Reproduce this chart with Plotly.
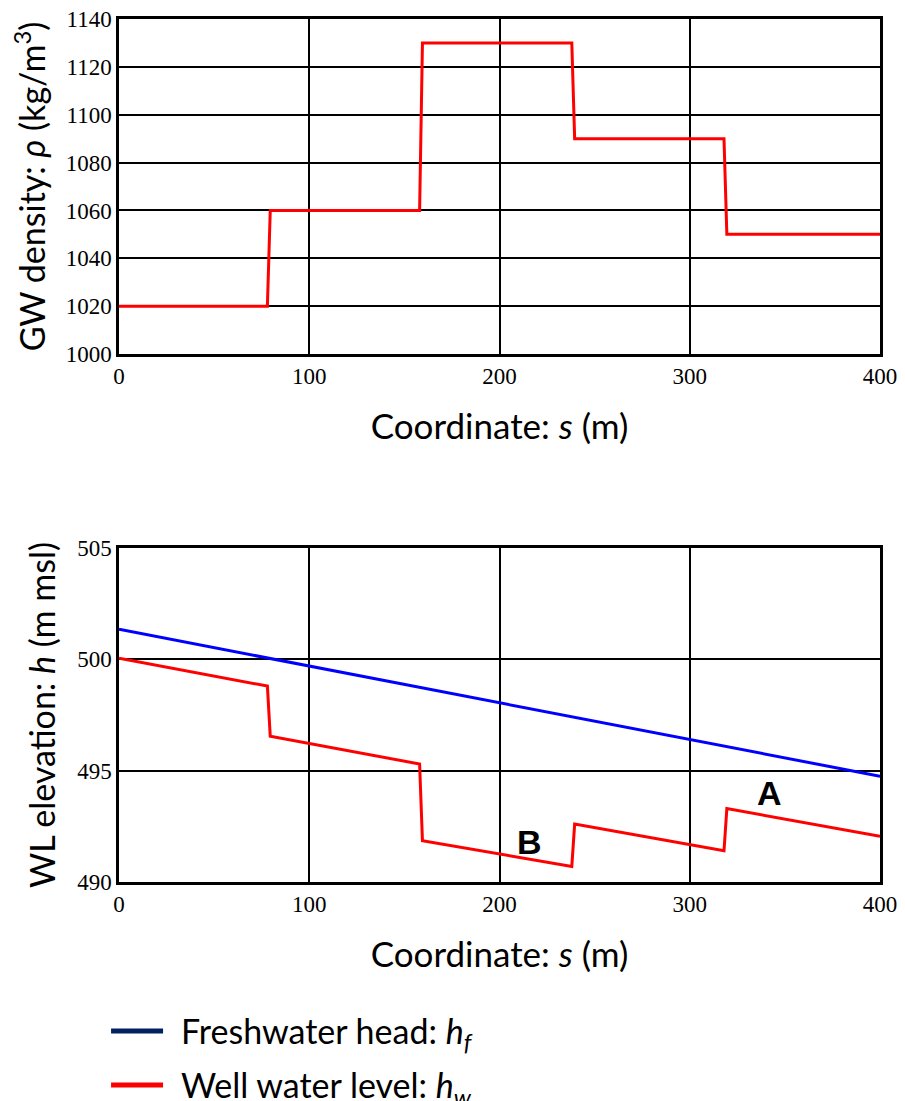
import plotly.graph_objects as go
from plotly.subplots import make_subplots

# ---- data ----
s_rho = [0, 78, 79.5, 158, 159.5, 238, 239.5, 318, 319.5, 400]
rho = [1020, 1020, 1060, 1060, 1130, 1130, 1090, 1090, 1050, 1050]

s_hf = [0, 400]
hf = [501.35, 494.75]

s_hw = [0, 78, 79.5, 158, 159.5, 238, 239.5, 318, 319.5, 400]
hw = [500.05, 498.8, 496.55, 495.3, 491.85, 490.7, 492.6, 491.4, 493.3, 492.05]

x_ticks = [0, 100, 200, 300, 400]
rho_ticks = [1000, 1020, 1040, 1060, 1080, 1100, 1120, 1140]
h_ticks = [490, 495, 500, 505]

labels = [("A", 342, 494.0), ("B", 216, 491.8)]

TICKFONT = dict(family="Liberation Serif", size=23, color="black")
SANS = "Lato"

fig = make_subplots(rows=2, cols=1, vertical_spacing=0.0)

fig.add_trace(go.Scatter(x=s_rho, y=rho, mode="lines",
                         line=dict(color="#ff0000", width=3), showlegend=False), row=1, col=1)
fig.add_trace(go.Scatter(x=s_hf, y=hf, mode="lines",
                         line=dict(color="#0000ff", width=3), showlegend=False), row=2, col=1)
fig.add_trace(go.Scatter(x=s_hw, y=hw, mode="lines",
                         line=dict(color="#ff0000", width=3), showlegend=False), row=2, col=1)

# legend entries
NB = "\u00a0\u2009"
fig.add_trace(go.Scatter(x=[None], y=[None], mode="lines", legendgroup="a",
                         line=dict(color="#002060", width=5),
                         name=NB + "Freshwater head: <i>h</i><sub><i>f</i></sub>"), row=2, col=1)
fig.add_trace(go.Scatter(x=[None], y=[None], mode="lines", legendgroup="b",
                         line=dict(color="#ff0000", width=5),
                         name=NB + "Well water level: <i>h</i><sub><i>w</i></sub>"), row=2, col=1)

axis_common = dict(showline=True, linecolor="black", linewidth=2.5, mirror=True,
                   showgrid=True, gridcolor="black", gridwidth=1.5,
                   ticks="", tickfont=TICKFONT, zeroline=False, automargin=False,
                   ticklabeloverflow="allow")

fig.update_xaxes(**axis_common, range=[0, 400], tickvals=x_ticks,
                 title=dict(text="Coordinate: <i>s</i> (m)", font=dict(family=SANS, size=35, color="black"),
                            standoff=27))
fig.update_yaxes(**axis_common)
fig.update_yaxes(range=[1000, 1140], tickvals=rho_ticks, row=1, col=1,
                 title=dict(text="GW density: <i>ρ</i> (kg/m<sup>3</sup>)",
                            font=dict(family=SANS, size=34, color="black"), standoff=12))
fig.update_yaxes(range=[490, 505], tickvals=h_ticks, row=2, col=1,
                 title=dict(text="WL elevation: <i>h</i> (m msl)",
                            font=dict(family=SANS, size=34, color="black"), standoff=12))

fig.update_layout(
    width=905, height=1101,
    margin=dict(l=111, r=33, t=11, b=227, autoexpand=False),
    plot_bgcolor="white", paper_bgcolor="white",
    xaxis=dict(domain=[0, 1]), yaxis=dict(domain=[0.6118, 1.0]),
    xaxis2=dict(domain=[0, 1]), yaxis2=dict(domain=[0, 0.387]),
    legend=dict(x=-0.017, y=-0.1394, xanchor="left", yanchor="top",
                font=dict(family=SANS, size=34, color="black"),
                tracegroupgap=7, itemwidth=52, bgcolor="rgba(0,0,0,0)"),
    showlegend=True,
)

for t, x, y in labels:
    fig.add_annotation(x=x, y=y, xref="x2", yref="y2", text=f"<b>{t}</b>", showarrow=False,
                       font=dict(family="Liberation Sans", size=34, color="black"))

fig.write_html("out.html")
